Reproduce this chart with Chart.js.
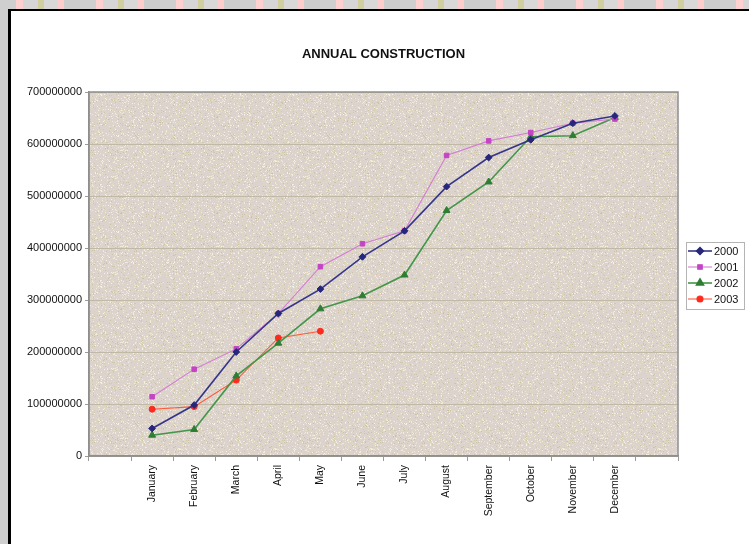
<!DOCTYPE html>
<html>
<head>
<meta charset="utf-8">
<title>Annual Construction</title>
<script src="https://cdn.jsdelivr.net/npm/chart.js@4.4.1/dist/chart.umd.min.js"></script>
<style>
  html, body { margin: 0; padding: 0; width: 749px; height: 544px; overflow: hidden; }
  body {
    position: relative;
    background-color: #d0d0d0;
    background-image: repeating-linear-gradient(90deg,
      #cfcfcf 0 16px, #ffd0d0 16px 23px, #d6d6d6 23px 38px, #cfcf9f 38px 44px,
      #d8d8d8 44px 58px, #ffcccc 58px 64px, #cccccc 64px 80px);
  }
  #frame {
    position: absolute; left: 8px; top: 9px; right: 0; bottom: 0;
    background: #ffffff;
    border-top: 2px solid #000;
    border-left: 3px solid #000;
  }
  #chart { position: absolute; left: 0; top: 0; }
</style>
</head>
<body>
<div id="frame"></div>
<canvas id="chart" width="749" height="544"></canvas>
<script>
// Chart data
const months = ['January', 'February', 'March', 'April', 'May', 'June',
                'July', 'August', 'September', 'October', 'November', 'December'];
const yearLabels = ['2000', '2001', '2002', '2003'];
const values2000 = [53000000, 98000000, 200000000, 274000000, 321000000, 383000000,
                    433000000, 518000000, 574000000, 608000000, 640000000, 654000000];
const values2001 = [114000000, 167000000, 206000000, 274000000, 364000000, 408000000,
                    433000000, 578000000, 606000000, 622000000, 640000000, 648000000];
const values2002 = [40000000, 51000000, 154000000, 217000000, 283000000, 308000000,
                    348000000, 472000000, 527000000, 614000000, 616000000, 651000000];
const values2003 = [90000000, 95000000, 146000000, 227000000, 240000000];
const yTicks = [0, 100000000, 200000000, 300000000, 400000000, 500000000, 600000000, 700000000];
const chartTitle = 'ANNUAL CONSTRUCTION';

// the category axis keeps an empty slot on each side of the months
const categories = [''].concat(months, ['']);
function padded(vals) {
  const out = [null].concat(vals);
  while (out.length < categories.length) out.push(null);
  return out;
}

const FONT = '"Liberation Sans", Arial, Helvetica, sans-serif';

// speckled stone fill for the plot area
function stonePattern() {
  const n = 96;
  const c = document.createElement('canvas');
  c.width = n; c.height = n;
  const g = c.getContext('2d');
  g.fillStyle = '#ddd3cd';
  g.fillRect(0, 0, n, n);
  const tones = ['#f2edcf', '#cdc4a6', '#ede8e1', '#e8dec2', '#d2c9ad', '#f5f1e4'];
  for (let y = 0; y < n; y++) {
    for (let x = 0; x < n; x++) {
      let h = Math.imul(x * 374761393 + y * 668265263, 1274126177) >>> 0;
      h = (h ^ (h >>> 13)) >>> 0;
      h = Math.imul(h, 1103515245) >>> 0;
      const r = (h >>> 8) % 100;
      if (r < 18) {
        g.fillStyle = tones[r % tones.length];
        g.fillRect(x, y, 1, 1);
      }
    }
  }
  return g.createPattern(c, 'repeat');
}

const styles = [
  { color: '#35358a', point: '#26267a', style: 'rectRot', radius: 3.4, width: 1.6 },
  { color: '#d47cd4', point: '#c444c4', style: 'rect', radius: 3.2, width: 1.1 },
  { color: '#43964a', point: '#2e7d34', style: 'triangle', radius: 4, width: 1.6 },
  { color: '#ff5a3a', point: '#ff2a1e', style: 'circle', radius: 3, width: 1.1 }
];
const seriesValues = [values2000, values2001, values2002, values2003];

const datasets = seriesValues.map((vals, i) => ({
  label: yearLabels[i],
  data: padded(vals),
  borderColor: styles[i].color,
  backgroundColor: styles[i].point,
  pointBackgroundColor: styles[i].point,
  pointBorderColor: styles[i].point,
  pointStyle: styles[i].style,
  pointRadius: styles[i].radius,
  pointHoverRadius: styles[i].radius,
  pointBorderWidth: 1,
  borderWidth: styles[i].width,
  tension: 0,
  fill: false
}));

let stone = null;

const decor = {
  id: 'decor',
  beforeDraw(chart) {
    const { ctx, chartArea: a } = chart;
    if (!stone) stone = stonePattern();
    ctx.save();
    ctx.fillStyle = stone;
    ctx.fillRect(a.left, a.top, a.right - a.left, a.bottom - a.top);
    ctx.restore();
  },
  afterDraw(chart) {
    const { ctx, chartArea: a } = chart;
    ctx.save();
    // plot frame
    ctx.strokeStyle = '#8f8f8f';
    ctx.lineWidth = 1.5;
    ctx.strokeRect(a.left, a.top, a.right - a.left, a.bottom - a.top);

    // title
    ctx.fillStyle = '#111';
    ctx.font = 'bold 13px ' + FONT;
    ctx.textAlign = 'center';
    ctx.textBaseline = 'middle';
    ctx.fillText(chartTitle, (a.left + a.right) / 2, 54);

    // legend box
    const bx = 686, by = 242, bw = 58, bh = 67;
    ctx.fillStyle = '#ffffff';
    ctx.fillRect(bx, by, bw, bh);
    ctx.strokeStyle = '#b4b4b4';
    ctx.lineWidth = 1;
    ctx.strokeRect(bx + 0.5, by + 0.5, bw, bh);
    ctx.font = '11px ' + FONT;
    ctx.textAlign = 'left';
    chart.data.datasets.forEach((ds, i) => {
      const y = 251 + i * 16;
      ctx.strokeStyle = ds.borderColor;
      ctx.lineWidth = ds.borderWidth;
      ctx.beginPath();
      ctx.moveTo(688, y);
      ctx.lineTo(712, y);
      ctx.stroke();
      ctx.fillStyle = ds.pointBackgroundColor;
      ctx.strokeStyle = ds.pointBorderColor;
      Chart.helpers.drawPoint(ctx, {
        pointStyle: ds.pointStyle, radius: ds.pointRadius, rotation: 0, borderWidth: 1
      }, 700, y);
      ctx.fillStyle = '#111';
      ctx.fillText(ds.label, 714, y + 0.5);
    });
    ctx.restore();
  }
};

new Chart(document.getElementById('chart'), {
  type: 'line',
  data: { labels: categories, datasets },
  plugins: [decor],
  options: {
    responsive: false,
    animation: false,
    events: [],
    layout: { padding: { left: 0, right: 71, top: 92, bottom: 0 } },
    plugins: {
      legend: { display: false },
      title: { display: false },
      tooltip: { enabled: false }
    },
    scales: {
      x: {
        type: 'category',
        offset: true,
        grid: {
          offset: true,
          drawOnChartArea: false,
          drawTicks: true,
          tickLength: 5,
          tickColor: '#9a9a9a'
        },
        border: { display: true, color: '#8f8f8f', width: 1.5 },
        ticks: {
          autoSkip: false,
          minRotation: 90,
          maxRotation: 90,
          padding: 4,
          color: '#111',
          font: { family: FONT, size: 10.5 }
        },
        afterFit(scale) { scale.height = 88; }
      },
      y: {
        min: 0,
        max: 700000000,
        afterBuildTicks(scale) { scale.ticks = yTicks.map(v => ({ value: v })); },
        grid: {
          color: '#c0b9a6',
          lineWidth: 1,
          drawTicks: true,
          tickLength: 4,
          tickColor: '#9a9a9a'
        },
        border: { display: true, color: '#8f8f8f', width: 1.5 },
        ticks: {
          padding: 3,
          color: '#111',
          font: { family: FONT, size: 11 },
          callback: v => String(v)
        },
        afterFit(scale) { scale.width = 89; }
      }
    }
  }
});
</script>
</body>
</html>
